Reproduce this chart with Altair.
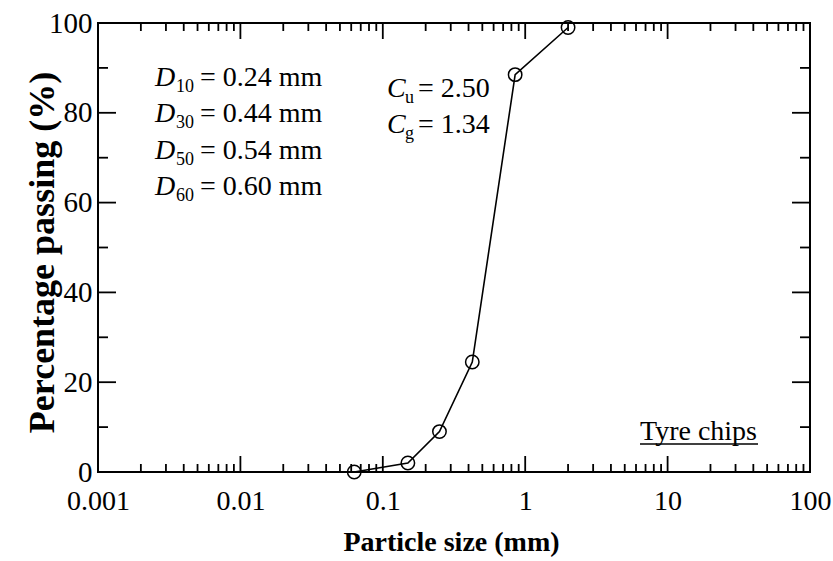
import altair as alt
import pandas as pd

# ---- data ----
size_mm = [0.063, 0.15, 0.25, 0.425, 0.85, 2.0]
passing = [0.0, 2.0, 9.0, 24.5, 88.5, 99.0]

x_major = [0.001, 0.01, 0.1, 1, 10, 100]
decades = [0.001, 0.01, 0.1, 1, 10]
multipliers = [2, 3, 4, 5, 6, 7, 8, 9]
y_major = [0, 20, 40, 60, 80, 100]
y_minor = [10, 30, 50, 70, 90]

d_subs = ["10", "30", "50", "60"]
d_vals = ["0.24", "0.44", "0.54", "0.60"]
c_subs = ["u", "g"]
c_vals = ["2.50", "1.34"]
material = "Tyre chips"

x_minor = [d * m for d in decades for m in multipliers]

W, H = 712, 449
FONT = "Liberation Serif"

xs = alt.Scale(type="log", domain=[0.001, 100])
ys = alt.Scale(domain=[0, 100], nice=False)

df = pd.DataFrame({"size": size_mm, "pct": passing})

x_axis = alt.Axis(
    values=x_major, format="~g", labelFont=FONT, labelFontSize=28, labelColor="black",
    labelPadding=15, tickSize=0, ticks=False, domain=False, grid=False,
    labelFlush=False, labelOverlap=False,
    title="Particle size (mm)", titleFont=FONT, titleFontSize=28, titleFontWeight="bold",
    titleColor="black", titleX=353, titleY=78, titleAlign="center", titleBaseline="alphabetic",
)
y_axis = alt.Axis(
    values=y_major, labelFont=FONT, labelFontSize=29, labelColor="black",
    labelPadding=6, tickSize=0, ticks=False, domain=False, grid=False,
    labelFlush=False, labelOverlap=False,
    title="Percentage passing (%)", titleFont=FONT, titleFontSize=36, titleFontWeight="bold",
    titleColor="black", titleX=-45, titleY=229, titleAngle=270, titleAlign="center",
    titleBaseline="alphabetic",
)

line = alt.Chart(df).mark_line(color="black", strokeWidth=1.6).encode(
    x=alt.X("size:Q", scale=xs, axis=x_axis),
    y=alt.Y("pct:Q", scale=ys, axis=y_axis),
)
pts = alt.Chart(df).mark_point(
    shape="circle", filled=False, color="black", size=180, strokeWidth=1.5, opacity=1
).encode(
    x=alt.X("size:Q", scale=xs, axis=x_axis),
    y=alt.Y("pct:Q", scale=ys, axis=y_axis),
)


def xticks(vals, length, top):
    d = pd.DataFrame({"size": vals})
    return alt.Chart(d).mark_rule(color="black", strokeWidth=1.8).encode(
        x=alt.X("size:Q", scale=xs, axis=x_axis),
        y=alt.value(0 if top else H),
        y2=alt.value(length if top else H - length),
    )


def yticks(vals, length, right):
    d = pd.DataFrame({"pct": vals})
    return alt.Chart(d).mark_rule(color="black", strokeWidth=1.8).encode(
        y=alt.Y("pct:Q", scale=ys, axis=y_axis),
        x=alt.value(W if right else 0),
        x2=alt.value(W - length if right else length),
    )


tick_layers = [
    xticks(x_major, 16, False), xticks(x_minor, 8, False),
    xticks(x_major, 16, True), xticks(x_minor, 8, True),
    yticks(y_major, 18, False), yticks(y_minor, 10, False),
    yticks(y_major, 18, True), yticks(y_minor, 10, True),
]


def txt(s, x, y, size=28, style="normal", weight="normal"):
    d = pd.DataFrame({"t": [s]})
    return alt.Chart(d).mark_text(
        font=FONT, fontSize=size, fontStyle=style, fontWeight=weight, color="black",
        align="left", baseline="alphabetic",
    ).encode(text="t:N", x=alt.value(x), y=alt.value(y))


ox, oy = 98, 23  # plot origin in page pixels
ann = []
for i, (s, v) in enumerate(zip(d_subs, d_vals)):
    by = 86 + 36.3 * i - oy
    ann.append(txt("D", 155 - ox, by, style="italic"))
    ann.append(txt(s, 176 - ox, by + 6, size=18))
    ann.append(txt("= " + v + " mm", 200 - ox, by))
for i, (s, v) in enumerate(zip(c_subs, c_vals)):
    by = 97 + 36 * i - oy
    ann.append(txt("C", 387 - ox, by, style="italic"))
    ann.append(txt(s, 405 - ox, by + 6, size=18))
    ann.append(txt("= " + v, 418 - ox, by))
ann.append(txt(material, 640 - ox, 440 - oy))
underline = alt.Chart(pd.DataFrame({"t": [material]})).mark_rule(
    color="black", strokeWidth=1.5
).encode(x=alt.value(640 - ox), x2=alt.value(758 - ox), y=alt.value(444 - oy))

chart = alt.layer(line, pts, *tick_layers, *ann, underline).properties(
    width=W, height=H, background="white",
    padding={"left": ox, "top": oy, "right": 833 - ox - W, "bottom": 561 - oy - H},
    autosize=alt.AutoSizeParams(type="none"),
).configure_view(stroke="black", strokeWidth=2)

chart.save("out.html", embed_options={"renderer": "svg", "actions": False})
